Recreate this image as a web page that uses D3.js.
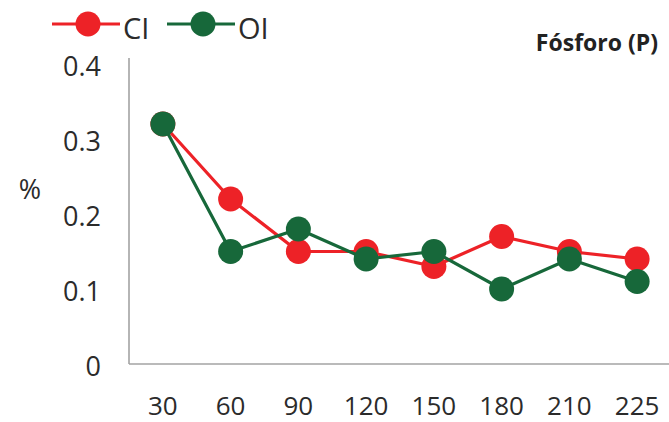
<!DOCTYPE html>
<html>
<head>
<meta charset="utf-8">
<script src="https://cdn.jsdelivr.net/npm/d3@7"></script>
<style>
  html, body { margin: 0; padding: 0; background: #fff; }
  svg { display: block; font-family: "Open Sans", Lato, sans-serif; }
</style>
</head>
<body>
<svg id="chart" width="669" height="422"></svg>
<script>
// Days after sowing
const categories = ["30", "60", "90", "120", "150", "180", "210", "225"];
// Phosphorus content (%) per treatment
const seriesCI = [0.32, 0.22, 0.15, 0.15, 0.13, 0.17, 0.15, 0.14];
const seriesOI = [0.32, 0.15, 0.18, 0.14, 0.15, 0.10, 0.14, 0.11];
const yTicks = [0, 0.1, 0.2, 0.3, 0.4];
const seriesNames = ["CI", "OI"];
const seriesColors = ["#ed2227", "#17683a"];

const svg = d3.select("#chart");
const width = 669, height = 422;
const margin = { left: 129, right: 0, top: 64, bottom: 58 };

const x = d3.scaleBand().domain(categories).range([margin.left, width + 2]).padding(0);
const y = d3.scaleLinear().domain([0, 0.4]).range([height - margin.bottom, margin.top]);

// Axes (lines only, no tick marks)
const axisColor = "#a3a3a3";
svg.append("line")
  .attr("x1", margin.left).attr("x2", margin.left)
  .attr("y1", margin.top - 6).attr("y2", y(0))
  .attr("stroke", axisColor).attr("stroke-width", 1.6);
svg.append("line")
  .attr("x1", margin.left).attr("x2", width)
  .attr("y1", y(0)).attr("y2", y(0))
  .attr("stroke", axisColor).attr("stroke-width", 1.6);

const textColor = "#2b2b2b";

// Y tick labels
svg.append("g").selectAll("text").data(yTicks).join("text")
  .attr("x", 101).attr("y", d => y(d) + 1)
  .attr("text-anchor", "end").attr("dominant-baseline", "central")
  .attr("font-size", 27).attr("fill", textColor)
  .text(d => d === 0 ? "0" : d3.format(".1f")(d));

// X tick labels
svg.append("g").selectAll("text").data(categories).join("text")
  .attr("x", d => x(d) + x.bandwidth() / 2).attr("y", 405)
  .attr("text-anchor", "middle").attr("dominant-baseline", "central")
  .attr("font-size", 26).attr("fill", textColor)
  .text(d => d);

// Y axis title
svg.append("text")
  .attr("x", 30).attr("y", 188)
  .attr("text-anchor", "middle").attr("dominant-baseline", "central")
  .attr("font-size", 27).attr("fill", textColor)
  .text("%");

// Chart title
svg.append("text")
  .attr("x", 658).attr("y", 42)
  .attr("text-anchor", "end").attr("dominant-baseline", "central")
  .attr("font-size", 23).attr("font-weight", "bold").attr("fill", "#222")
  .text("Fósforo (P)");

// Series
const data = [seriesCI, seriesOI];
const line = d3.line()
  .x((d, i) => x(categories[i]) + x.bandwidth() / 2)
  .y(d => y(d));

data.forEach((vals, si) => {
  const g = svg.append("g");
  g.append("path")
    .attr("d", line(vals))
    .attr("fill", "none")
    .attr("stroke", seriesColors[si])
    .attr("stroke-width", 3.2)
    .attr("stroke-linejoin", "round");
  g.selectAll("circle").data(vals).join("circle")
    .attr("cx", (d, i) => x(categories[i]) + x.bandwidth() / 2)
    .attr("cy", d => y(d))
    .attr("r", 12.5)
    .attr("fill", seriesColors[si]);
});

// Legend
const legendItems = [
  { name: seriesNames[0], color: seriesColors[0], x0: 52 },
  { name: seriesNames[1], color: seriesColors[1], x0: 167 }
];
const lg = svg.append("g");
legendItems.forEach(it => {
  lg.append("line")
    .attr("x1", it.x0).attr("x2", it.x0 + 68)
    .attr("y1", 24).attr("y2", 24)
    .attr("stroke", it.color).attr("stroke-width", 3.2);
  lg.append("circle")
    .attr("cx", it.x0 + 36).attr("cy", 24).attr("r", 12.5)
    .attr("fill", it.color);
  lg.append("text")
    .attr("x", it.x0 + 71).attr("y", 27)
    .attr("dominant-baseline", "central")
    .attr("font-size", 29).attr("fill", textColor)
    .text(it.name);
});
</script>
</body>
</html>
